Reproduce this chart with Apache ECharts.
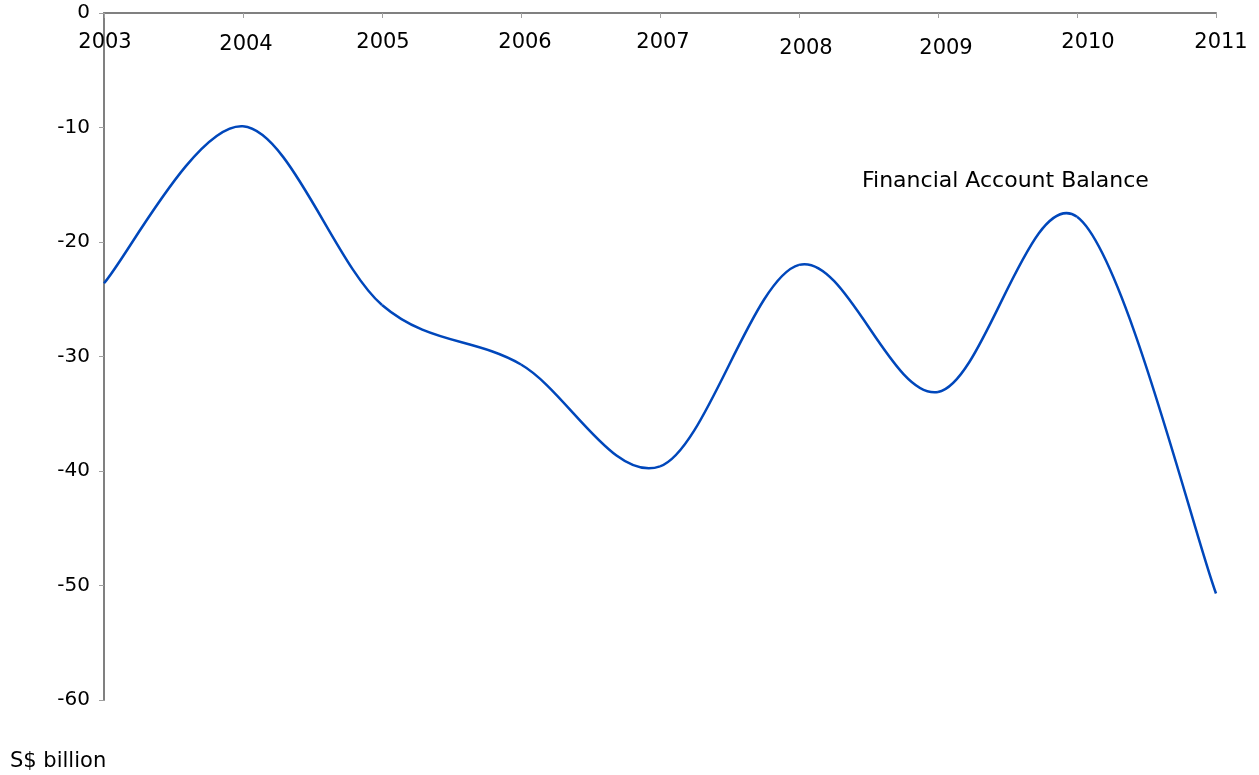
<!DOCTYPE html>
<html>
<head>
<meta charset="utf-8">
<script src="https://cdn.jsdelivr.net/npm/echarts@6/dist/echarts.min.js"></script>
<style>
html,body{margin:0;padding:0;background:#fff;}
#chart{width:1259px;height:775px;}
</style>
</head>
<body>
<div id="chart"></div>
<script>
var years = ['2003','2004','2005','2006','2007','2008','2009','2010','2011'];
var financialAccountBalance = [-23.6, -9.9, -25.5, -30.7, -39.6, -22.0, -33.1, -17.8, -50.7];
var seriesLabel = 'Financial Account Balance';
var unitLabel = 'S$ billion';

var labelShift = [1, 3, 1, 4, 3, 7, 8, 11, 5];
var labelDown = [0, 1, 0, 0, 0, 3, 3, 0, 0];

var chart = echarts.init(document.getElementById('chart'));
var font = 'DejaVu Sans, Verdana, sans-serif';
var n = financialAccountBalance.length;

// Excel-style smoothed segment between point i and i+1 (Catmull-Rom, tension 1/6)
function renderSegment(params, api) {
  var i = params.dataIndex;
  if (i >= n - 1) return null;
  var p = function (k) {
    k = Math.max(0, Math.min(n - 1, k));
    return api.coord([k, financialAccountBalance[k]]);
  };
  var p0 = p(i - 1), p1 = p(i), p2 = p(i + 1), p3 = p(i + 2);
  var c1 = [p1[0] + (p2[0] - p0[0]) / 6, p1[1] + (p2[1] - p0[1]) / 6];
  var c2 = [p2[0] - (p3[0] - p1[0]) / 6, p2[1] - (p3[1] - p1[1]) / 6];
  return {
    type: 'bezierCurve',
    shape: {x1: p1[0], y1: p1[1], x2: p2[0], y2: p2[1], cpx1: c1[0], cpy1: c1[1], cpx2: c2[0], cpy2: c2[1]},
    style: {stroke: '#0047BB', lineWidth: 2.5, fill: null},
    silent: true
  };
}

chart.setOption({
  animation: false,
  grid: {left: 104, right: 43, top: 13, bottom: 75, containLabel: false},
  xAxis: {
    type: 'category',
    position: 'top',
    boundaryGap: false,
    data: years.map(function (y, i) {
      return {value: y, textStyle: {padding: [labelDown[i] * 2, 0, 0, labelShift[i] * 2]}};
    }),
    axisLine: {onZero: false, lineStyle: {color: '#808080', width: 2}},
    axisTick: {inside: true, length: 5, lineStyle: {color: '#a0a0a0', width: 1}},
    axisLabel: {inside: true, margin: 19, color: '#000', fontSize: 21, fontFamily: font, interval: 0, verticalAlign: 'top'},
    splitLine: {show: false}
  },
  yAxis: {
    type: 'value',
    min: -60,
    max: 0,
    interval: 10,
    axisLine: {show: true, lineStyle: {color: '#808080', width: 2}},
    axisTick: {show: true, length: 5, lineStyle: {color: '#a0a0a0', width: 1}},
    axisLabel: {color: '#000', fontSize: 20, fontFamily: font, margin: 14},
    splitLine: {show: false}
  },
  series: [{
    name: seriesLabel,
    type: 'custom',
    renderItem: renderSegment,
    data: financialAccountBalance.map(function (v, i) { return [i, v]; }),
    encode: {x: 0, y: 1},
    clip: false
  }],
  graphic: [
    {type: 'text', left: 862, top: 170, style: {text: seriesLabel, font: '22px ' + font, fill: '#000'}},
    {type: 'text', left: 10, top: 751, style: {text: unitLabel, font: '21px ' + font, fill: '#000'}}
  ]
});
</script>
</body>
</html>
